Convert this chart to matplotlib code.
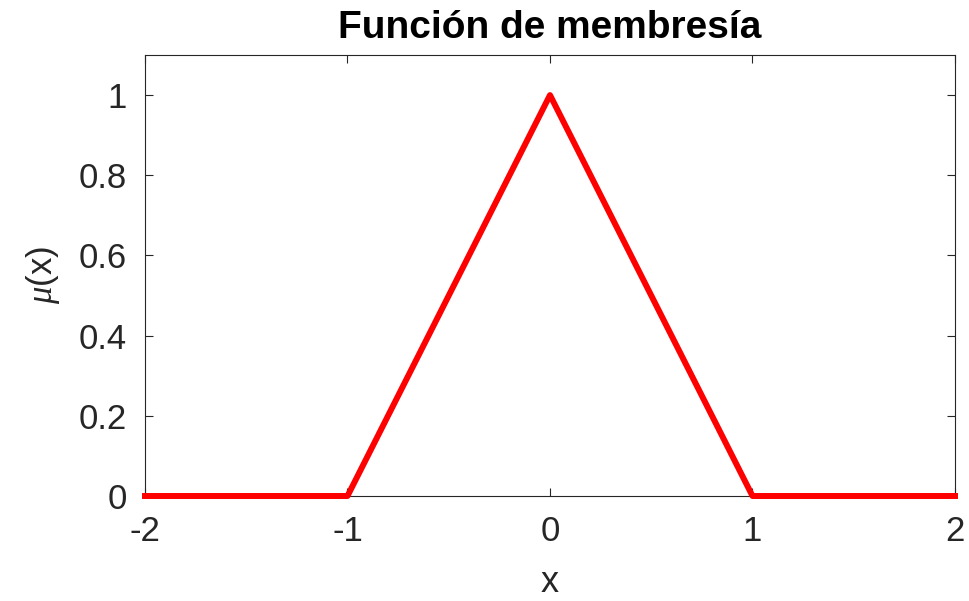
import matplotlib
matplotlib.use("Agg")
import matplotlib.pyplot as plt

# triangular membership function, breakpoints and their degree
x_pts = [-2, -1, 0, 1, 2]
mu_pts = [0, 0, 1, 0, 0]

x_ticks = [-2, -1, 0, 1, 2]
y_ticks = [0, 0.2, 0.4, 0.6, 0.8, 1]
y_tick_labels = ["0", "0.2", "0.4", "0.6", "0.8", "1"]

plt.rcParams['font.family'] = ['Liberation Sans', 'DejaVu Sans']
plt.rcParams['axes.unicode_minus'] = False
plt.rcParams['mathtext.fontset'] = 'custom'
plt.rcParams['mathtext.it'] = 'Liberation Serif:italic'

fig = plt.figure(figsize=(9.7, 6.01), dpi=100)
ax = fig.add_axes([145/970, 105/601, 810/970, 441/601])

ax.plot(x_pts, mu_pts, color='#ff0000', linewidth=4.3, solid_joinstyle='round',
        clip_on=False, zorder=3)

ax.set_xlim(-2, 2)
ax.set_ylim(0, 1.1)
ax.set_xticks(x_ticks)
ax.set_yticks(y_ticks)
ax.set_yticklabels(y_tick_labels)

edge = '#262626'
for s in ax.spines.values():
    s.set_color(edge)
    s.set_linewidth(0.8)
ax.tick_params(direction='in', length=6, width=0.8, colors=edge,
               top=True, right=True, labelsize=25)
ax.tick_params(axis='x', pad=14)
ax.tick_params(axis='y', pad=13)
for lbl in ax.get_xticklabels() + ax.get_yticklabels():
    lbl.set_color('#262626')

ax.set_title('Función de membresía', fontsize=28, fontweight='bold', pad=12)
ax.set_xlabel('x', fontsize=26, color='#262626', labelpad=12)
ax.set_ylabel(r'$\mu$(x)', fontsize=25, color='#262626', labelpad=12)

fig.savefig('out.png', dpi=100)
